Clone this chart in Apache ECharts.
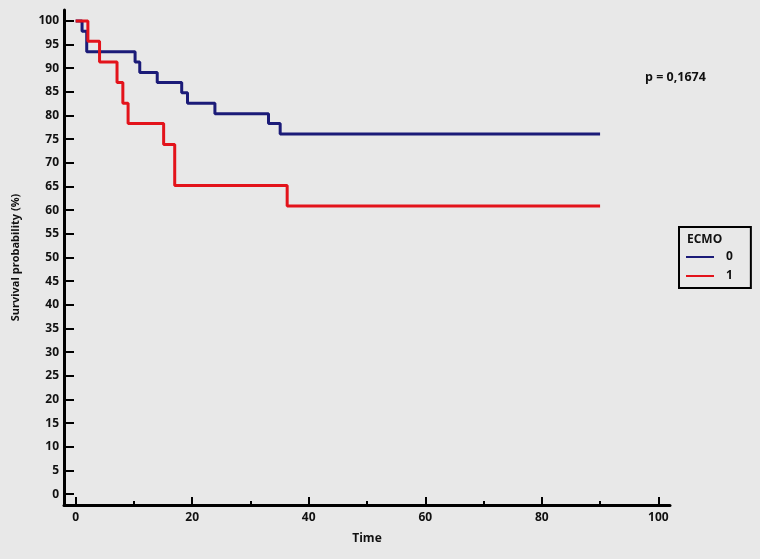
<!DOCTYPE html>
<html><head><meta charset="utf-8">
<script src="https://cdn.jsdelivr.net/npm/echarts@6/dist/echarts.min.js"></script>
<style>html,body{margin:0;padding:0;background:#e8e8e8}#c{width:760px;height:559px}</style>
</head><body><div id="c"></div>
<script>
var seriesNames = ['0', '1'];
var timesEcmo0 = [0, 1.1, 1.9, 10.2, 11.0, 14.0, 18.2, 19.2, 23.9, 33.1, 35.1, 90];
var survEcmo0  = [100, 97.8, 93.5, 91.3, 89.1, 87.0, 84.8, 82.6, 80.4, 78.3, 76.1, 76.1];
var timesEcmo1 = [0, 2.1, 4.1, 7.1, 8.1, 9.0, 15.1, 17.0, 36.3, 90];
var survEcmo1  = [100, 95.7, 91.3, 87.0, 82.6, 78.3, 73.9, 65.2, 60.9, 60.9];
var xMajorTicks = [0, 20, 40, 60, 80, 100];
var xMinorTicks = [10, 30, 50, 70, 90];
var yTicks = [0,5,10,15,20,25,30,35,40,45,50,55,60,65,70,75,80,85,90,95,100];
var pText = 'p = 0,1674';
var legendTitle = 'ECMO';

function pairs(t, s){ return t.map(function(v,i){ return [v, s[i]]; }); }
var FONT = '"Open Sans", "Liberation Sans", sans-serif';
var chart = echarts.init(document.getElementById('c'));
chart.setOption({
  backgroundColor: '#e8e8e8',
  animation: false,
  grid: [
    { left: 64, right: 90, top: 10, bottom: 54 },
    { left: 64, right: 90, top: 497, bottom: 54 },
    { left: 64, right: 90, top: 501, bottom: 54 }
  ],
  xAxis: [{
    gridIndex: 0, type: 'value', min: -2, max: 102,
    name: 'Time', nameLocation: 'middle', nameGap: 28,
    nameTextStyle: { fontFamily: FONT, fontWeight: 'bold', fontSize: 12, color: '#111' },
    axisLine: { show: true, onZero: false, lineStyle: { color: '#000', width: 3 } },
    axisTick: { show: true, inside: true, length: 8, lineStyle: { color: '#000', width: 2 }, customValues: xMajorTicks },
    axisLabel: { customValues: xMajorTicks, margin: 7, fontFamily: FONT, fontWeight: 'bold', fontSize: 12, color: '#111' },
    splitLine: { show: false }
  }, {
    gridIndex: 1, type: 'value', min: -2, max: 102,
    axisLine: { show: false, onZero: false },
    axisTick: { show: false, customValues: xMajorTicks },
    axisLabel: { show: false },
    splitLine: { show: true, lineStyle: { color: '#000', width: 2 } }
  }, {
    gridIndex: 2, type: 'value', min: -2, max: 102,
    axisLine: { show: false, onZero: false },
    axisTick: { show: false, customValues: xMinorTicks },
    axisLabel: { show: false },
    splitLine: { show: true, lineStyle: { color: '#000', width: 2 } }
  }],
  yAxis: [{
    gridIndex: 0, type: 'value', min: -2.3, max: 102.3,
    name: 'Survival probability (%)', nameLocation: 'middle', nameGap: 43,
    nameTextStyle: { fontFamily: FONT, fontWeight: 'bold', fontSize: 11, color: '#111' },
    axisLine: { show: true, onZero: false, lineStyle: { color: '#000', width: 3 } },
    axisTick: { show: true, inside: true, length: 10, lineStyle: { color: '#000', width: 2 }, customValues: yTicks },
    axisLabel: { customValues: yTicks, margin: 5, fontFamily: FONT, fontWeight: 'bold', fontSize: 12, color: '#111' },
    splitLine: { show: false }
  }, {
    gridIndex: 1, type: 'value', min: 0, max: 1, show: false, splitLine: { show: false }
  }, {
    gridIndex: 2, type: 'value', min: 0, max: 1, show: false, splitLine: { show: false }
  }],
  legend: {
    orient: 'vertical', left: 679, top: 227,
    padding: [24, 18, 6, 7], itemGap: 7,
    borderColor: '#000', borderWidth: 2,
    itemWidth: 28, itemHeight: 10,
    icon: 'path://M0,4 L28,4 L28,6 L0,6 Z',
    data: seriesNames,
    textStyle: { fontFamily: FONT, fontWeight: 'bold', fontSize: 12, color: '#111', padding: [0,0,0,7] }
  },
  graphic: [
    { type: 'text', left: 687, top: 234, style: { text: legendTitle, font: 'bold 12px ' + FONT, fill: '#111' } },
    { type: 'text', left: 645, top: 71, style: { text: pText, font: 'bold 12.5px ' + FONT, fill: '#111' } }
  ],
  series: [{
    name: seriesNames[0], type: 'line', step: 'end', showSymbol: false, symbol: 'none',
    data: pairs(timesEcmo0, survEcmo0),
    itemStyle: { color: '#1b1b78' },
    lineStyle: { color: '#1b1b78', width: 3 }
  }, {
    name: seriesNames[1], type: 'line', step: 'end', showSymbol: false, symbol: 'none',
    data: pairs(timesEcmo1, survEcmo1),
    itemStyle: { color: '#e3131b' },
    lineStyle: { color: '#e3131b', width: 3 }
  }]
});
</script></body></html>
